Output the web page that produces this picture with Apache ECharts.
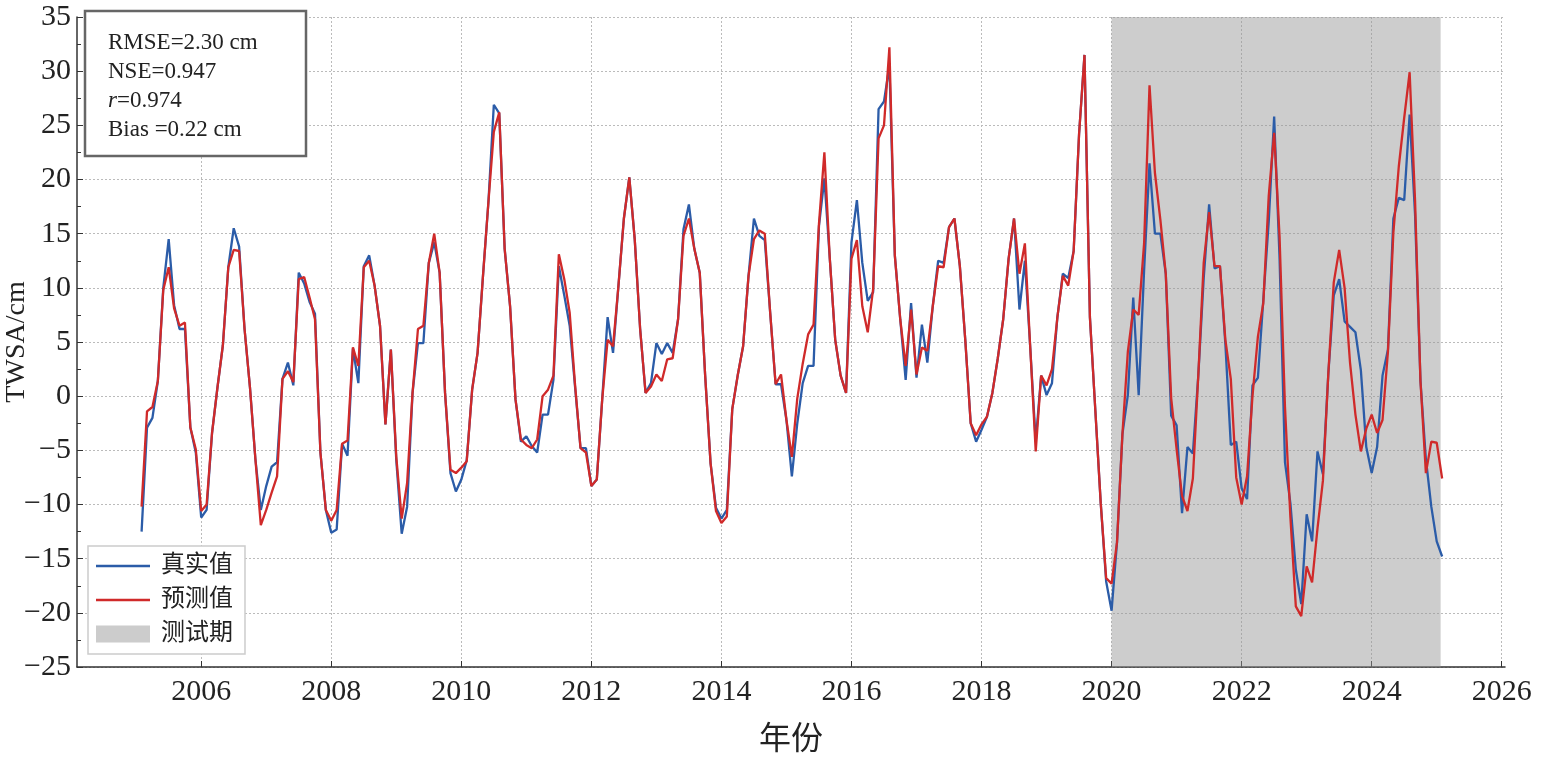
<!DOCTYPE html>
<html>
<head>
<meta charset="utf-8">
<title>TWSA</title>
<script src="https://cdn.jsdelivr.net/npm/echarts@6/dist/echarts.min.js"></script>
<style>
	html, body { margin: 0; padding: 0; background: #fff; }
	#main { width: 1542px; height: 758px; }
</style>
</head>
<body>
<div id="main"></div>
<script type="text/javascript">
	// 月序列从 2005 年 2 月开始
	var startYear = 2005, startMonth = 2;
	var xTicks = [2006, 2008, 2010, 2012, 2014, 2016, 2018, 2020, 2022, 2024, 2026];
	var testPeriod = [2020.0, 2025.06];

	// 真实值
	var actual = [
		-12.5, -2.9, -2.0, 1.4, 10.0, 14.5, 8.4, 6.2, 6.2, -2.9, -5.2, -11.2,
		-10.5, -3.4, 0.8, 4.7, 11.9, 15.5, 13.8, 6.2, 0.8, -5.8, -10.5, -8.3,
		-6.5, -6.1, 1.6, 3.1, 1.0, 11.4, 10.4, 8.7, 7.6, -5.2, -10.5, -12.6,
		-12.3, -4.4, -5.5, 4.4, 1.2, 12.0, 13.0, 10.2, 6.5, -2.6, 4.3, -5.9,
		-12.7, -10.2, 0.3, 4.9, 4.9, 12.3, 14.2, 11.4, 0.3, -7.1, -8.8, -7.7,
		-5.9, 0.6, 4.0, 11.1, 17.9, 26.9, 26.1, 13.6, 8.3, -0.3, -4.2, -3.7,
		-4.6, -5.2, -1.7, -1.7, 1.5, 12.0, 9.3, 6.5, 0.8, -4.8, -4.8, -8.3,
		-7.7, -0.3, 7.3, 4.0, 10.2, 16.4, 20.2, 14.5, 6.2, 0.3, 1.2, 4.9,
		3.9, 4.9, 4.0, 7.1, 15.4, 17.7, 13.6, 11.4, 1.9, -6.2, -10.3, -11.3,
		-10.5, -1.2, 1.9, 4.6, 11.1, 16.4, 14.8, 14.4, 7.7, 1.1, 1.1, -2.2,
		-7.4, -2.5, 1.2, 2.8, 2.8, 15.7, 20.1, 12.7, 5.2, 1.9, 0.3, 14.2,
		18.1, 12.3, 8.8, 9.6, 26.5, 27.2, 30.5, 13.0, 7.1, 1.5, 8.6, 1.7,
		6.6, 3.1, 8.3, 12.5, 12.3, 15.6, 16.4, 12.0, 5.2, -2.5, -4.2, -3.1,
		-1.9, 0.3, 3.5, 7.1, 12.7, 16.4, 8.0, 12.5, 4.4, -4.2, 1.9, 0.1,
		1.2, 7.3, 11.3, 10.9, 13.4, 24.2, 31.5, 7.3, -1.3, -9.9, -17.1, -19.8,
		-13.5, -3.5, 0.1, 9.1, 0.1, 11.6, 21.5, 15.0, 15.0, 11.3, -1.8, -2.7,
		-10.8, -4.7, -5.3, 1.9, 10.9, 17.7, 11.8, 12.0, 4.8, -4.5, -4.2, -8.5,
		-9.5, 1.0, 1.7, 8.9, 16.1, 25.8, 12.7, -6.1, -9.9, -16.0, -19.2, -10.9,
		-13.4, -5.1, -7.2, 2.1, 9.3, 10.8, 6.9, 6.4, 5.9, 2.4, -4.7, -7.1,
		-4.7, 1.9, 4.3, 16.4, 18.3, 18.1, 26.0, 16.8, 1.4, -5.8, -10.2, -13.4,
		-14.8
	];

	// 预测值
	var predicted = [
		-10.2, -1.4, -1.0, 1.4, 9.8, 11.9, 8.1, 6.5, 6.8, -2.9, -4.9, -10.6,
		-10.0, -3.4, 0.8, 4.7, 11.9, 13.5, 13.4, 6.2, 0.8, -5.8, -11.9, -10.5,
		-8.9, -7.4, 1.6, 2.3, 1.3, 10.8, 11.0, 9.1, 7.1, -5.2, -10.5, -11.5,
		-10.5, -4.4, -4.1, 4.5, 2.8, 11.9, 12.5, 10.2, 6.5, -2.6, 4.3, -5.6,
		-11.3, -8.0, 0.3, 6.2, 6.5, 12.3, 15.0, 11.4, 0.3, -6.8, -7.1, -6.6,
		-6.0, 0.6, 4.0, 11.1, 17.9, 24.4, 26.2, 13.6, 8.3, -0.3, -4.0, -4.5,
		-4.8, -4.0, 0.0, 0.6, 1.9, 13.1, 10.8, 7.7, 1.0, -4.8, -5.2, -8.3,
		-7.7, -0.3, 5.2, 4.6, 10.2, 16.4, 20.2, 14.5, 6.2, 0.3, 0.9, 2.0,
		1.4, 3.4, 3.5, 7.1, 14.8, 16.4, 13.6, 11.4, 1.9, -6.2, -10.6, -11.7,
		-11.1, -1.2, 1.9, 4.6, 11.1, 14.5, 15.3, 15.0, 7.7, 1.1, 2.0, -2.2,
		-5.6, -0.2, 3.0, 5.7, 6.6, 15.9, 22.5, 12.7, 5.2, 1.9, 0.3, 12.7,
		14.4, 8.3, 5.9, 9.9, 23.8, 25.0, 32.2, 13.0, 7.1, 2.8, 8.0, 2.0,
		4.5, 4.2, 8.3, 12.0, 11.9, 15.6, 16.4, 12.0, 5.2, -2.5, -3.6, -2.6,
		-1.9, 0.3, 3.5, 7.1, 12.7, 16.4, 11.3, 14.1, 4.4, -5.1, 1.9, 1.0,
		2.5, 7.3, 11.1, 10.2, 13.4, 24.2, 31.5, 7.3, -1.3, -9.9, -16.8, -17.3,
		-13.5, -3.5, 4.1, 8.0, 7.5, 14.1, 28.7, 20.6, 16.3, 11.3, -0.2, -4.9,
		-9.2, -10.6, -7.6, 1.9, 12.3, 17.0, 12.0, 12.0, 5.2, 1.6, -7.5, -10.0,
		-7.4, 0.0, 5.5, 8.6, 18.5, 24.3, 14.7, -1.0, -11.2, -19.4, -20.3, -15.7,
		-17.2, -12.2, -7.8, 2.1, 10.5, 13.5, 10.0, 3.1, -1.7, -5.1, -3.0, -1.7,
		-3.4, -2.2, 4.1, 15.1, 21.2, 25.7, 29.9, 18.1, 1.4, -7.1, -4.2, -4.3,
		-7.6
	];

	// 月份 -> 小数年
	function monthTime(i) {
		return startYear + (startMonth - 1 + i) / 12;
	}
	var actualData = actual.map(function (v, i) { return [monthTime(i), v]; });
	var predictedData = predicted.map(function (v, i) { return [monthTime(i), v]; });

	var serif = "'Liberation Serif', 'DejaVu Serif', serif";
	var cjk = "'Liberation Serif', 'Noto Sans CJK SC', serif";
	var lineIcon = 'path://M0,0L54,0L54,2.4L0,2.4Z';

	var chart = echarts.init(document.getElementById('main'));
	var option = {
		animation: false,
		backgroundColor: '#fff',
		grid: {
			left: 77, right: 37, top: 17, bottom: 91,
			containLabel: false, outerBoundsMode: 'none'
		},
		legend: {
			orient: 'vertical',
			left: 88,
			top: 546,
			padding: [8, 12, 8, 8],
			itemGap: 10,
			itemWidth: 54,
			itemHeight: 17,
			borderColor: '#cccccc',
			borderWidth: 1.5,
			backgroundColor: '#fff',
			textStyle: { fontFamily: cjk, fontSize: 24, color: '#222', padding: [0, 0, 0, 6] },
			data: [
				{ name: '真实值', icon: lineIcon },
				{ name: '预测值', icon: lineIcon },
				{ name: '测试期', icon: 'rect' }
			]
		},
		xAxis: {
			type: 'value',
			min: 2004.09,
			max: 2026.05,
			name: '年份',
			nameLocation: 'middle',
			nameGap: 58,
			nameMoveOverlap: false,
			nameTextStyle: { fontFamily: cjk, fontSize: 32, color: '#222' },
			axisLine: { onZero: false, lineStyle: { color: '#333', width: 1.5 } },
			axisTick: { inside: true, length: 6, customValues: xTicks, lineStyle: { color: '#333' } },
			axisLabel: {
				customValues: xTicks,
				fontFamily: serif, fontSize: 30, color: '#222', margin: 10,
				formatter: function (v) { return String(v); }
			},
			splitLine: { show: true, lineStyle: { color: '#bbbbbb', type: [2, 2], width: 1 } }
		},
		yAxis: {
			type: 'value',
			min: -25,
			max: 35,
			interval: 5,
			name: 'TWSA/cm',
			nameLocation: 'middle',
			nameGap: 46,
			nameMoveOverlap: false,
			nameTextStyle: { fontFamily: serif, fontSize: 28, color: '#222' },
			axisLine: { show: true, onZero: false, lineStyle: { color: '#333', width: 1.5 } },
			axisTick: { show: true, inside: true, length: 6, lineStyle: { color: '#333' } },
			minorTick: { show: true, splitNumber: 2, length: 4, lineStyle: { color: '#333' } },
			axisLabel: {
				fontFamily: serif, fontSize: 30, color: '#222', margin: 6,
				formatter: function (v) { return v < 0 ? '\u2212' + Math.abs(v) : String(v); }
			},
			splitLine: { show: true, lineStyle: { color: '#bbbbbb', type: [2, 2], width: 1 } }
		},
		graphic: [
			{
				type: 'rect', z: 100,
				shape: { x: 85, y: 11, width: 221, height: 145 },
				style: { fill: '#fff', stroke: '#666', lineWidth: 2.5 }
			},
			{
				type: 'text', z: 101, left: 108, top: 31,
				style: {
					text: '{a|RMSE=2.30 cm}\n{a|NSE=0.947}\n{i|r}{a|=0.974}\n{a|Bias =0.22 cm}',
					rich: {
						a: { fontFamily: serif, fontSize: 23, fill: '#222', lineHeight: 29 },
						i: { fontFamily: serif, fontSize: 23, fontStyle: 'italic', fill: '#222', lineHeight: 29 }
					}
				}
			}
		],
		series: [
			{
				name: '测试期',
				type: 'bar',
				data: [],
				z: 1,
				itemStyle: { color: '#cccccc' },
				markArea: {
					silent: true,
					itemStyle: { color: 'rgba(150,150,150,0.48)' },
					label: { show: false },
					data: [[{ xAxis: testPeriod[0] }, { xAxis: testPeriod[1] }]]
				}
			},
			{
				name: '真实值',
				type: 'line',
				data: actualData,
				z: 2,
				symbol: 'none',
				showSymbol: false,
				lineStyle: { color: '#2b5ca8', width: 2.3 },
				itemStyle: { color: '#2b5ca8' }
			},
			{
				name: '预测值',
				type: 'line',
				data: predictedData,
				z: 3,
				symbol: 'none',
				showSymbol: false,
				lineStyle: { color: '#d02a2a', width: 2.3 },
				itemStyle: { color: '#d02a2a' }
			}
		]
	};
	chart.setOption(option);
</script>
</body>
</html>
